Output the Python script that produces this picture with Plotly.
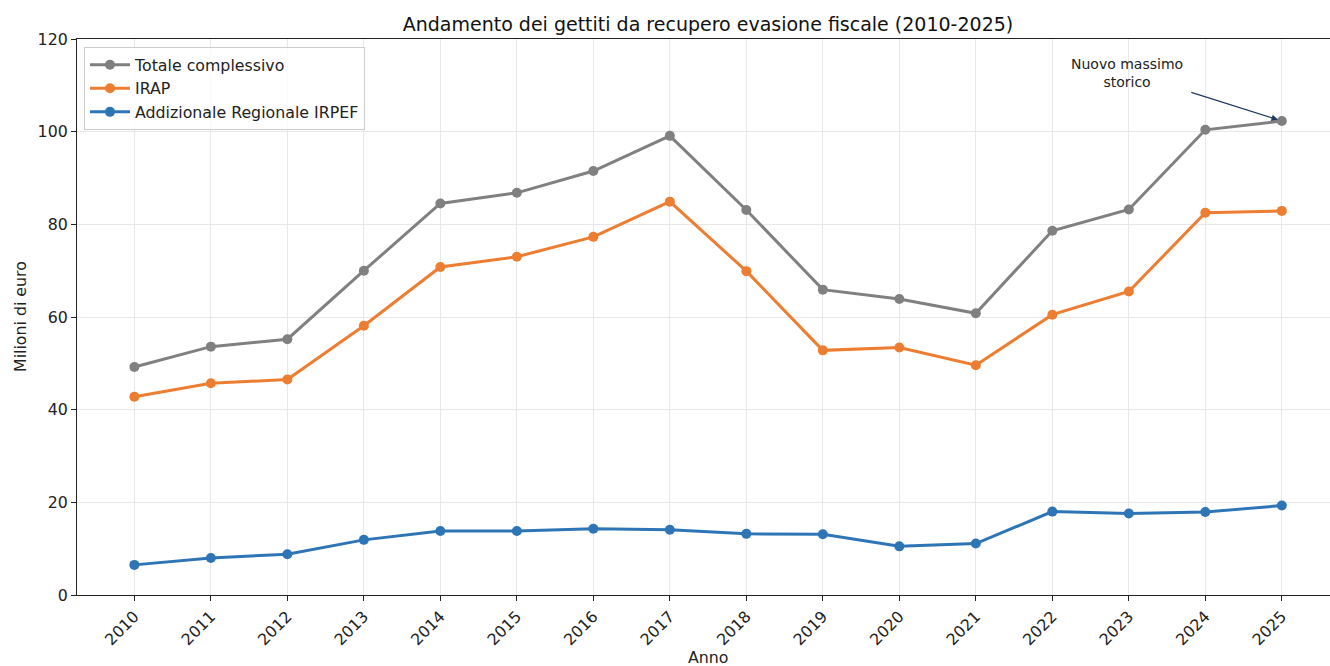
import plotly.graph_objects as go

years = list(range(2010, 2026))
totale = [49.2, 53.6, 55.2, 70.0, 84.5, 86.8, 91.5, 99.1, 83.1, 65.9, 63.9, 60.8, 78.6, 83.2, 100.4, 102.3]
irap = [42.8, 45.7, 46.5, 58.1, 70.8, 73.0, 77.3, 84.9, 69.9, 52.8, 53.4, 49.6, 60.5, 65.5, 82.5, 82.9]
addizionale = [6.5, 8.0, 8.8, 11.9, 13.8, 13.8, 14.3, 14.1, 13.2, 13.1, 10.5, 11.1, 18.0, 17.6, 17.9, 19.3]
series_names = ["Totale complessivo", "IRAP", "Addizionale Regionale IRPEF"]
colors = ["#808080", "#ED7D31", "#2E75B6"]
y_ticks = [0, 20, 40, 60, 80, 100, 120]

FONT = "DejaVu Sans"
FS = 15.8
L, T, B = 77, 39, 71
PW, PH = 1330 - L, 666 - T - B

fig = go.Figure()
for name, vals, col in zip(series_names, [totale, irap, addizionale], colors):
    fig.add_trace(go.Scatter(
        x=years, y=vals, name=name, mode="lines+markers",
        line=dict(color=col, width=3),
        marker=dict(color=col, size=10),
    ))

# arrow
fig.add_annotation(
    x=years[-1], y=totale[-1], xref="x", yref="y",
    ax=-92, ay=-29, axref="pixel", ayref="pixel",
    text="", showarrow=True, arrowhead=2, arrowsize=1, arrowwidth=1.3,
    arrowcolor="#1F3A5F", standoff=4,
)
fig.add_annotation(
    x=2022.98, y=112.7, xref="x", yref="y",
    text="Nuovo massimo<br>storico", showarrow=False,
    font=dict(family=FONT, size=14, color="#222"),
    xanchor="center", yanchor="middle",
)
# axis titles
fig.add_annotation(
    x=(708 - L) / PW, y=-(657 - 595) / PH, xref="paper", yref="paper",
    text="Anno", showarrow=False, font=dict(family=FONT, size=FS, color="#222"),
    xanchor="center", yanchor="middle",
)
fig.add_annotation(
    x=-(L - 20) / PW, y=0.5, xref="paper", yref="paper",
    text="Milioni di euro", showarrow=False, textangle=-90,
    font=dict(family=FONT, size=FS, color="#222"),
    xanchor="center", yanchor="middle",
)

fig.update_layout(
    width=1330, height=666,
    margin=dict(l=L, r=0, t=T, b=B, autoexpand=False),
    paper_bgcolor="white", plot_bgcolor="white",
    font=dict(family=FONT, size=FS, color="#222"),
    title=dict(text="Andamento dei gettiti da recupero evasione fiscale (2010-2025)",
               x=708 / 1330, xanchor="center", y=1 - 24 / 666, yanchor="middle",
               font=dict(family=FONT, size=19, color="#111")),
    showlegend=True,
    legend=dict(x=7 / PW, y=1 - 8 / PH, xanchor="left", yanchor="top",
                bgcolor="rgba(255,255,255,0.8)", bordercolor="#CCCCCC", borderwidth=1,
                font=dict(family=FONT, size=FS, color="#222"),
                tracegroupgap=0, itemwidth=40),
)
fig.update_xaxes(
    range=[2009.25, 2025.63], tickmode="array", tickvals=years,
    ticktext=[str(y) for y in years], tickangle=-45,
    tickfont=dict(family=FONT, size=FS, color="#222"),
    showgrid=True, gridcolor="#E8E8E8", gridwidth=1,
    showline=True, linecolor="#222", linewidth=1.2, mirror=True,
    ticks="outside", ticklen=5, tickcolor="#222",
    automargin=False, zeroline=False,
)
fig.update_yaxes(
    range=[0, 120], tickmode="array", tickvals=y_ticks,
    tickfont=dict(family=FONT, size=FS, color="#222"),
    showgrid=True, gridcolor="#E8E8E8", gridwidth=1,
    showline=True, linecolor="#222", linewidth=1.2,
    ticks="outside", ticklen=5, tickcolor="#222",
    automargin=False, zeroline=False,
)
fig.write_html(
    "out.html",
    config={"displayModeBar": False},
    post_script="document.body.style.margin='0';document.body.style.overflow='hidden';",
)
